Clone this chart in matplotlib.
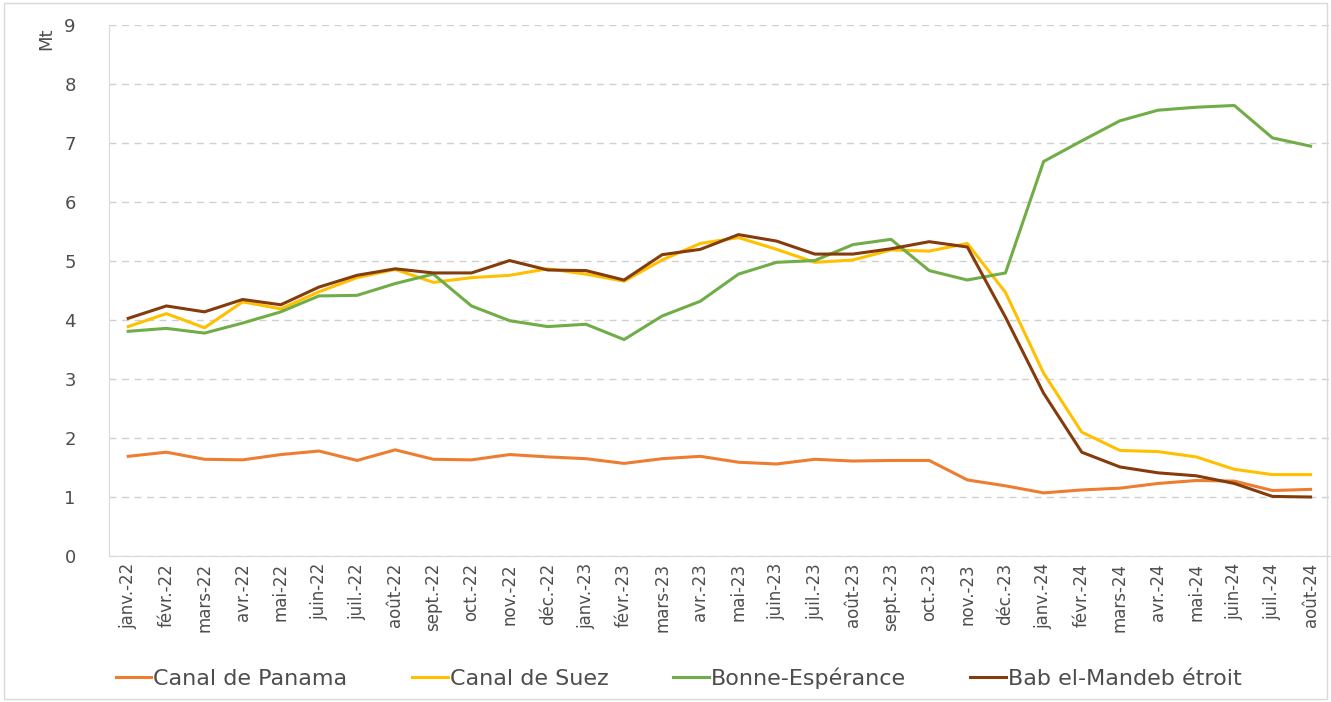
import matplotlib.pyplot as plt
import matplotlib.patches as patches

plt.rcParams['font.family'] = ['DejaVu Sans']

months = ["janv.-22", "févr.-22", "mars-22", "avr.-22", "mai-22", "juin-22", "juil.-22", "août-22",
          "sept.-22", "oct.-22", "nov.-22", "déc.-22", "janv.-23", "févr.-23", "mars-23", "avr.-23",
          "mai-23", "juin-23", "juil.-23", "août-23", "sept.-23", "oct.-23", "nov.-23", "déc.-23",
          "janv.-24", "févr.-24", "mars-24", "avr.-24", "mai-24", "juin-24", "juil.-24", "août-24"]

panama = [1.69, 1.76, 1.64, 1.63, 1.72, 1.78, 1.62, 1.80, 1.64, 1.63, 1.72, 1.68, 1.65, 1.57, 1.65, 1.69,
          1.59, 1.56, 1.64, 1.61, 1.62, 1.62, 1.29, 1.19, 1.07, 1.12, 1.15, 1.23, 1.28, 1.27, 1.11, 1.13]
suez = [3.89, 4.11, 3.87, 4.31, 4.19, 4.48, 4.72, 4.86, 4.64, 4.72, 4.76, 4.87, 4.78, 4.66, 5.02, 5.30,
        5.40, 5.20, 4.98, 5.02, 5.19, 5.17, 5.30, 4.47, 3.10, 2.10, 1.79, 1.77, 1.68, 1.47, 1.38, 1.38]
bonne = [3.81, 3.86, 3.78, 3.95, 4.14, 4.41, 4.42, 4.62, 4.78, 4.24, 3.99, 3.89, 3.93, 3.67, 4.07, 4.32,
         4.78, 4.98, 5.01, 5.28, 5.37, 4.84, 4.68, 4.80, 6.69, 7.04, 7.38, 7.56, 7.61, 7.64, 7.09, 6.95]
bab = [4.03, 4.24, 4.14, 4.35, 4.26, 4.56, 4.76, 4.87, 4.80, 4.80, 5.01, 4.85, 4.84, 4.68, 5.11, 5.20,
       5.45, 5.34, 5.12, 5.12, 5.21, 5.33, 5.24, 4.05, 2.76, 1.76, 1.51, 1.41, 1.36, 1.23, 1.01, 1.00]

series = [("Canal de Panama", panama, "#ED7D31"),
          ("Canal de Suez", suez, "#FFC000"),
          ("Bonne-Espérance", bonne, "#70AD47"),
          ("Bab el-Mandeb étroit", bab, "#843C0C")]

txt = "#4D4D4D"

fig = plt.figure(figsize=(13.31, 7.02), dpi=100)
ax = fig.add_axes([0.082, 0.208, 0.917, 0.756])

x = list(range(len(months)))
for name, vals, col in series:
    ax.plot(x, vals, color=col, lw=2.2, label=name)

ax.set_xlim(-0.5, len(months) - 0.5)
ax.set_ylim(0, 9)
ax.set_yticks(range(10))
ax.set_xticks(x)
ax.set_xticklabels(months, rotation=90, fontsize=12, color=txt)
ax.tick_params(axis='y', labelsize=13, colors=txt, length=0, pad=24)
ax.tick_params(axis='x', length=0, pad=5)
ax.grid(axis='y', color="#D0D0D0", ls=(0, (5, 4)), lw=1)
ax.set_axisbelow(True)
for s in ["top", "right"]:
    ax.spines[s].set_visible(False)
ax.spines["left"].set_color("#D9D9D9")
ax.spines["bottom"].set_color("#D9D9D9")

fig.text(0.035, 0.945, "Mt", rotation=90, fontsize=13, color=txt, ha="center", va="center")

leg = fig.legend(loc="center", bbox_to_anchor=(0.510, 0.034), ncol=4, frameon=False,
                 fontsize=16, handlelength=1.6, handletextpad=0.1, columnspacing=2.9)
for t in leg.get_texts():
    t.set_color(txt)

fig.patches.append(patches.Rectangle((0.003, 0.004), 0.994, 0.992, transform=fig.transFigure,
                                     fill=False, ec="#D9D9D9", lw=1))

fig.savefig("out.png", dpi=100)
